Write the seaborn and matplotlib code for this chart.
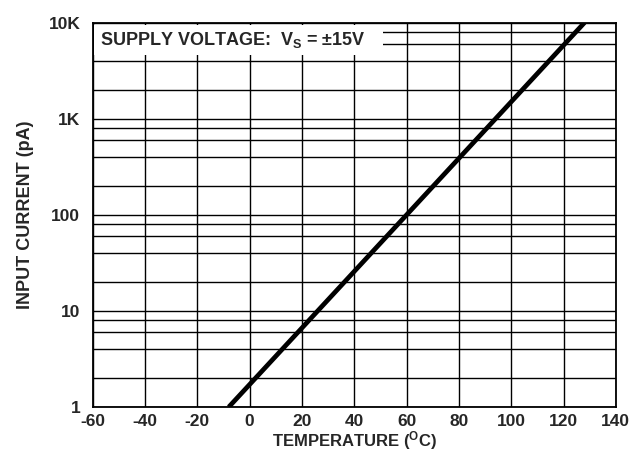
import matplotlib
matplotlib.use("Agg")
import matplotlib.pyplot as plt
import seaborn as sns
import pandas as pd
from matplotlib.patches import Rectangle
from matplotlib.ticker import FixedLocator, NullFormatter

# Data (straight line on log scale)
temperature = [-8, 128]
input_current = [1, 10000]

x_ticks = [-60, -40, -20, 0, 20, 40, 60, 80, 100, 120, 140]
y_ticks = [1, 10, 100, 1000, 10000]
y_tick_labels = ["1", "10", "100", "1K", "10K"]
y_minor = [m * d for d in [1, 10, 100, 1000] for m in [2, 4, 6, 8]]

sns.set_style("white")
plt.rcParams['font.family'] = ['Liberation Sans', 'DejaVu Sans']
plt.rcParams['font.weight'] = 'bold'
plt.rcParams['mathtext.fontset'] = 'custom'
plt.rcParams['mathtext.rm'] = 'Liberation Sans:bold'
plt.rcParams['mathtext.bf'] = 'Liberation Sans:bold'
plt.rcParams['mathtext.it'] = 'Liberation Sans:bold'
plt.rcParams['mathtext.sf'] = 'Liberation Sans:bold'

fig = plt.figure(figsize=(6.31, 4.53), dpi=100)
ax = fig.add_axes([0.147, 0.1015, 0.829, 0.8485])

df = pd.DataFrame({"T": temperature, "I": input_current})
sns.lineplot(data=df, x="T", y="I", ax=ax, color="black", linewidth=3.4,
             solid_capstyle="butt", zorder=2.2)

ax.set_yscale("log")
ax.set_xlim(-60, 140)
ax.set_ylim(1, 10000)
ax.set_xticks(x_ticks)
ax.set_xticklabels([str(v) for v in x_ticks])
ax.set_yticks(y_ticks)
ax.set_yticklabels(y_tick_labels)
ax.yaxis.set_minor_locator(FixedLocator(y_minor))
ax.yaxis.set_minor_formatter(NullFormatter())

ax.grid(True, which="both", color="black", linewidth=1.0)
ax.tick_params(which="both", length=0)
ax.tick_params(axis="x", pad=5, labelsize=12.5)
ax.tick_params(axis="y", pad=9, labelsize=12.5)
for s in ax.spines.values():
    s.set_color("black")
    s.set_linewidth(1.3)

ax.set_xlabel(r"TEMPERATURE ($^{\rm O}$C)", fontsize=12, fontweight="bold", labelpad=0)
ax.set_ylabel("INPUT CURRENT (pA)", fontsize=13, fontweight="bold", labelpad=10)

ax.add_patch(Rectangle((0.003, 0.917), 0.552, 0.078, transform=ax.transAxes,
                       facecolor="white", edgecolor="none", zorder=1.8))
ax.text(0.014, 0.955, r"SUPPLY VOLTAGE:  V$_{\rm S}$ = $\pm$15V", transform=ax.transAxes,
        fontsize=13, fontweight="bold", va="center", ha="left", zorder=3)

fig.savefig("out.png", dpi=100)
